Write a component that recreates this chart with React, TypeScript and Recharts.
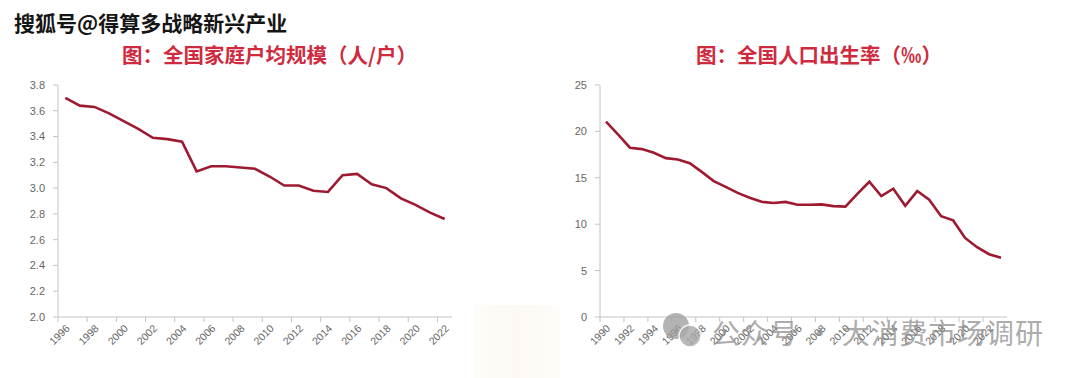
import { LineChart, Line, XAxis, YAxis } from 'recharts';

const householdYears = ['1996', '1997', '1998', '1999', '2000', '2001', '2002', '2003', '2004', '2005', '2006', '2007', '2008', '2009', '2010', '2011', '2012', '2013', '2014', '2015', '2016', '2017', '2018', '2019', '2020', '2021', '2022'];
const householdSize = [3.70, 3.64, 3.63, 3.58, 3.52, 3.46, 3.39, 3.38, 3.36, 3.13, 3.17, 3.17, 3.16, 3.15, 3.09, 3.02, 3.02, 2.98, 2.97, 3.10, 3.11, 3.03, 3.00, 2.92, 2.87, 2.81, 2.76];
const householdTicks = [2.0, 2.2, 2.4, 2.6, 2.8, 3.0, 3.2, 3.4, 3.6, 3.8];

const birthYears = ['1990', '1991', '1992', '1993', '1994', '1995', '1996', '1997', '1998', '1999', '2000', '2001', '2002', '2003', '2004', '2005', '2006', '2007', '2008', '2009', '2010', '2011', '2012', '2013', '2014', '2015', '2016', '2017', '2018', '2019', '2020', '2021', '2022', '2023'];
const birthRate = [21.06, 19.68, 18.24, 18.09, 17.70, 17.12, 16.98, 16.57, 15.64, 14.64, 14.03, 13.38, 12.86, 12.41, 12.29, 12.40, 12.09, 12.10, 12.14, 11.95, 11.90, 13.27, 14.57, 13.03, 13.83, 11.99, 13.57, 12.64, 10.86, 10.41, 8.52, 7.52, 6.77, 6.39];
const birthTicks = [0, 5, 10, 15, 20, 25];

const leftTitle = '图：全国家庭户均规模（人/户）';
const rightTitle = '图：全国人口出生率（‰）';
const topMark = '搜狐号@得算多战略新兴产业';
const bottomMark = '公众号 · 大消费市场调研';

const householdData = householdYears.map((year, i) => ({ year, value: householdSize[i] }));
const birthData = birthYears.map((year, i) => ({ year, value: birthRate[i] }));

const LINE = '#9e1a30';
const AXIS = '#c4c4c4';
const TEXT = '#666666';
const FONT = '"Liberation Sans", Arial, sans-serif';

// label centred on the category, tick mark on the category's left edge
const makeTick = (step: number) => (props: any) => {
  const { x, y, payload } = props;
  const bx = x - step / 2;
  return (
    <g>
      <line x1={bx} x2={bx} y1={y} y2={y + 5} stroke={AXIS} />
      <text
        transform={`translate(${x + 5},${y + 12}) rotate(-45)`}
        textAnchor="end"
        fontSize={10.5}
        fill={TEXT}
        fontFamily={FONT}
      >
        {payload.value}
      </text>
    </g>
  );
};

type PanelProps = {
  data: { year: string; value: number }[];
  ticks: number[];
  width: number;
  yAxisWidth: number;
  right: number;
  fmt: (v: number) => string;
};

const Panel = ({ data, ticks, width, yAxisWidth, right, fmt }: PanelProps) => {
  const plotW = width - yAxisWidth - right;
  const step = plotW / data.length;
  return (
    <LineChart
      width={width}
      height={378}
      data={data}
      margin={{ top: 85, right, left: 0, bottom: 21 }}
    >
      <XAxis
        dataKey="year"
        scale="point"
        padding={{ left: step / 2, right: step / 2 }}
        interval={1}
        tickSize={0}
        tickMargin={0}
        tick={makeTick(step)}
        stroke={AXIS}
        height={40}
      />
      <YAxis
        width={yAxisWidth}
        domain={[ticks[0], ticks[ticks.length - 1]]}
        ticks={ticks}
        tickFormatter={fmt}
        tickSize={5}
        tickMargin={8}
        stroke={AXIS}
        tick={{ fill: TEXT, fontSize: 11, fontFamily: FONT }}
      />
      <Line
        dataKey="value"
        type="linear"
        stroke={LINE}
        strokeWidth={2.6}
        dot={false}
        isAnimationActive={false}
      />
    </LineChart>
  );
};

const titleStyle: React.CSSProperties = {
  position: 'absolute',
  top: 40,
  fontFamily: '"Noto Sans CJK SC", sans-serif',
  fontSize: 20.5,
  fontWeight: 700,
  color: '#cf2a3e',
  whiteSpace: 'nowrap',
  lineHeight: '28px',
};

export default function App() {
  return (
    <div
      style={{
        position: 'absolute',
        left: 0,
        top: 0,
        width: 1080,
        height: 378,
        background: '#ffffff',
        overflow: 'hidden',
      }}
    >
      <div style={{ position: 'absolute', left: 475, top: 305, width: 85, height: 73, background: 'linear-gradient(90deg, #fdf8f2, #faf0e4 50%, #fdf8f2)', opacity: 0.45 }} />
      <div style={{ position: 'absolute', left: 0, top: 0 }}>
        <Panel data={householdData} ticks={householdTicks} width={470} yAxisWidth={58} right={18} fmt={(v) => v.toFixed(1)} />
      </div>
      <div style={{ position: 'absolute', left: 540, top: 0 }}>
        <Panel data={birthData} ticks={birthTicks} width={480} yAxisWidth={60} right={13} fmt={(v) => String(v)} />
      </div>
      <div style={{ ...titleStyle, left: 122 }}>{leftTitle}</div>
      <div style={{ ...titleStyle, left: 696 }}>{rightTitle}</div>
      <div
        style={{
          position: 'absolute',
          left: 14,
          top: 8,
          fontFamily: '"Noto Sans CJK SC", sans-serif',
          fontSize: 21,
          fontWeight: 700,
          color: '#151515',
          textShadow: '0 0 2px #fff, 0 0 2px #fff, 0 0 3px #fff',
          whiteSpace: 'nowrap',
          lineHeight: '28px',
        }}
      >
        {topMark}
      </div>
      <svg style={{ position: 'absolute', left: 0, top: 0 }} width={1080} height={378}>
        <circle cx={676} cy={326} r={13} fill="#9a9a9a" opacity={0.75} />
        <circle cx={690} cy={336} r={11} fill="#a8a8a8" opacity={0.8} stroke="#ffffff" strokeWidth={1.5} />
        <text
          x={712}
          y={344}
          textLength={331}
          lengthAdjust="spacing"
          fontFamily='"Noto Sans CJK SC", sans-serif'
          fontSize={28}
          fill="#8a8a8a"
          opacity={0.7}
        >
          {bottomMark}
        </text>
      </svg>
    </div>
  );
}
